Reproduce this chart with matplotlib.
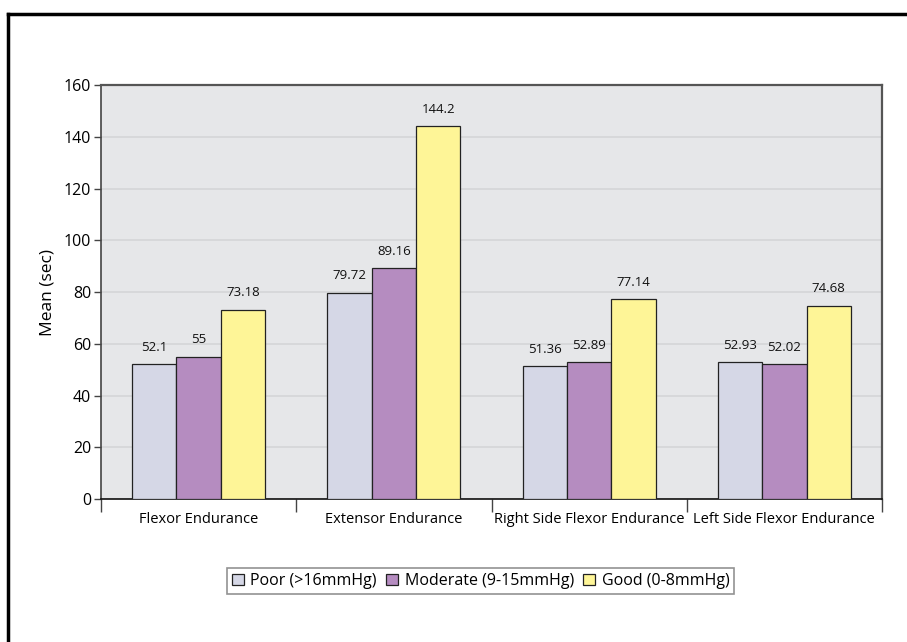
import matplotlib
matplotlib.use('Agg')
import matplotlib.pyplot as plt
from matplotlib.lines import Line2D
import numpy as np

categories = ['Flexor Endurance', 'Extensor Endurance',
              'Right Side Flexor Endurance', 'Left Side Flexor Endurance']
series_names = ['Poor (>16mmHg)', 'Moderate (9-15mmHg)', 'Good (0-8mmHg)']
poor = [52.1, 79.72, 51.36, 52.93]
moderate = [55, 89.16, 52.89, 52.02]
good = [73.18, 144.2, 77.14, 74.68]
value_labels = [['52.1', '79.72', '51.36', '52.93'],
                ['55', '89.16', '52.89', '52.02'],
                ['73.18', '144.2', '77.14', '74.68']]
y_ticks = [0, 20, 40, 60, 80, 100, 120, 140, 160]

colors = ['#d5d7e6', '#b58cc0', '#fef597']

plt.rcParams['font.family'] = ['Open Sans', 'DejaVu Sans']

fig = plt.figure(figsize=(9.07, 6.42), dpi=100)
ax = fig.add_axes([0.1114, 0.2227, 0.8610, 0.6449])
ax.set_facecolor('#e6e7e9')

x = np.arange(len(categories))
bar_w = 0.227
for i, vals in enumerate([poor, moderate, good]):
    pos = x + (i - 1) * bar_w
    ax.bar(pos, vals, bar_w, color=colors[i], edgecolor='#222222',
           linewidth=0.9, label=series_names[i], zorder=3)
    for p, v, txt in zip(pos, vals, value_labels[i]):
        ax.text(p, v + 4, txt, ha='center', va='bottom', fontsize=9.5,
                color='#111111')

ax.set_xlim(-0.5, len(categories) - 0.5)
ax.set_ylim(0, 160)
ax.set_yticks(y_ticks)
ax.tick_params(axis='y', labelsize=11.5, length=5, width=1, color='#444444', pad=2)
ax.grid(axis='y', color='#d4d5d8', linewidth=1.2, zorder=0)

# category labels sit between the boundary ticks
ax.set_xticks(np.arange(len(categories) + 1) - 0.5)
ax.set_xticklabels([])
ax.tick_params(axis='x', length=9, width=1, color='#444444')
ax.set_xticks(x, minor=True)
ax.set_xticklabels(categories, minor=True, fontsize=10.5)
ax.tick_params(axis='x', which='minor', length=0, pad=9)

for side in ['left', 'bottom']:
    ax.spines[side].set_color('#444444')
    ax.spines[side].set_linewidth(1.2)
ax.spines['bottom'].set_color('#111111')
for side in ['top', 'right']:
    ax.spines[side].set_color('#555555')
    ax.spines[side].set_linewidth(1.6)

ax.set_ylabel('Mean (sec)', fontsize=12.5, labelpad=6)

leg = ax.legend(loc='upper center', bbox_to_anchor=(0.486, -0.148), ncol=3,
                fontsize=11.5, frameon=True, fancybox=False, handlelength=0.75,
                handleheight=0.75, handletextpad=0.4, columnspacing=0.6,
                borderpad=0.3, edgecolor='#777777')
leg.get_frame().set_linewidth(1.2)

# outer frame along top and left edges
fig.add_artist(Line2D([0.0088, 0.0088], [0, 0.978], transform=fig.transFigure,
                      color='black', linewidth=2.5))
fig.add_artist(Line2D([0.0088, 1.0], [0.978, 0.978], transform=fig.transFigure,
                      color='black', linewidth=2.5))

fig.savefig('out.png', dpi=100)
